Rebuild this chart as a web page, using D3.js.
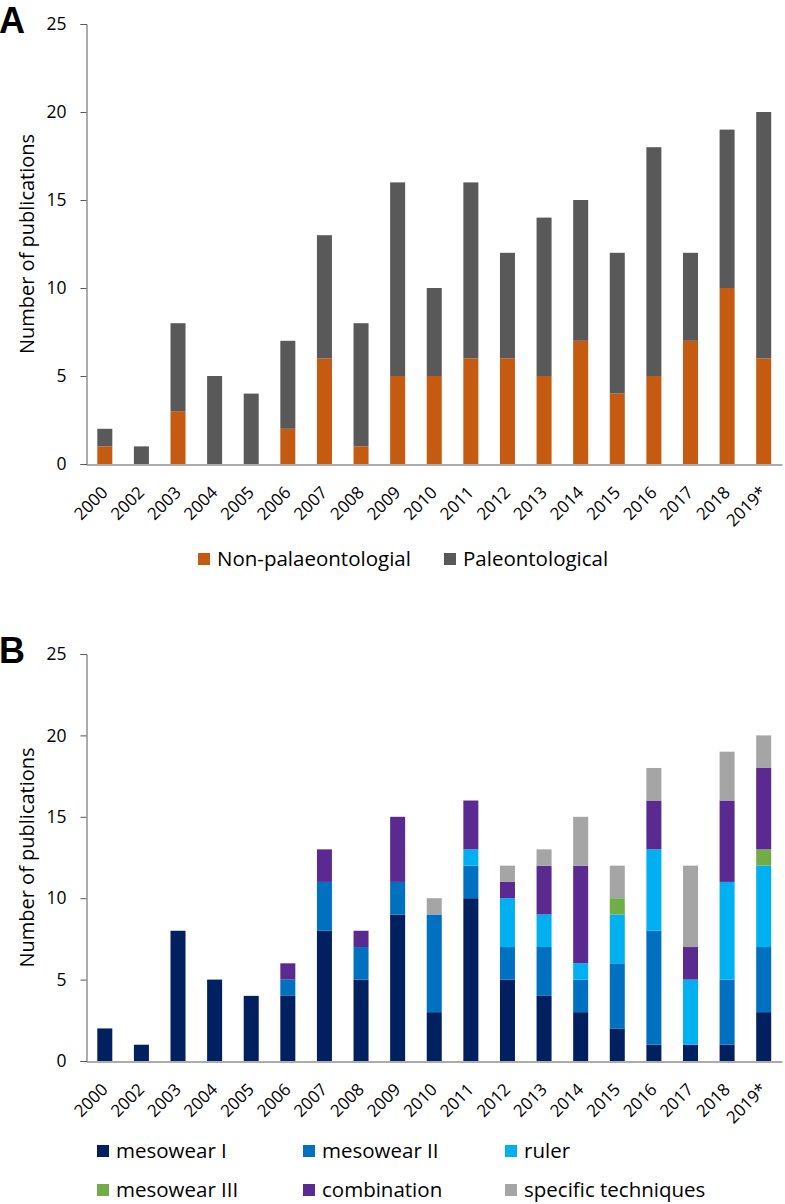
<!DOCTYPE html>
<html>
<head>
<meta charset="utf-8">
<script src="https://cdn.jsdelivr.net/npm/d3@7"></script>
<style>
  body { margin: 0; background: #fff; }
  svg text { font-family: "Open Sans", "Noto Sans", sans-serif; fill: #000; }
</style>
</head>
<body>
<svg id="chart" width="785" height="1204"></svg>
<script>
const years = ["2000", "2002", "2003", "2004", "2005", "2006", "2007", "2008", "2009", "2010",
               "2011", "2012", "2013", "2014", "2015", "2016", "2017", "2018", "2019*"];
const yTicks = [0, 5, 10, 15, 20, 25];

// panel A
const nonPalaeo = [1, 0, 3, 0, 0, 2, 6, 1, 5, 5, 6, 6, 5, 7, 4, 5, 7, 10, 6];
const palaeo    = [1, 1, 5, 5, 4, 5, 7, 7, 11, 5, 10, 6, 9, 8, 8, 13, 5, 9, 14];

// panel B
const mesowearI   = [2, 1, 8, 5, 4, 4, 8, 5, 9, 3, 10, 5, 4, 3, 2, 1, 1, 1, 3];
const mesowearII  = [0, 0, 0, 0, 0, 1, 3, 2, 2, 6, 2, 2, 3, 2, 4, 7, 0, 4, 4];
const ruler       = [0, 0, 0, 0, 0, 0, 0, 0, 0, 0, 1, 3, 2, 1, 3, 5, 4, 6, 5];
const mesowearIII = [0, 0, 0, 0, 0, 0, 0, 0, 0, 0, 0, 0, 0, 0, 1, 0, 0, 0, 1];
const combination = [0, 0, 0, 0, 0, 1, 2, 1, 4, 0, 3, 1, 3, 6, 0, 3, 2, 5, 5];
const specific    = [0, 0, 0, 0, 0, 0, 0, 0, 0, 1, 0, 1, 1, 3, 2, 2, 5, 3, 2];

const svg = d3.select("#chart");

function drawPanel(opts) {
    const rows = years.map((yr, i) => {
        const r = {year: yr};
        opts.series.forEach(s => r[s.key] = s.values[i]);
        return r;
    });
    const stack = d3.stack().keys(opts.series.map(s => s.key))(rows);

    const x = d3.scaleBand()
        .domain(years)
        .range([86.5, 782])
        .paddingInner(0.59)
        .paddingOuter(0.295);

    const y = d3.scaleLinear()
        .domain([0, 25])
        .range([opts.bottom, opts.top]);

    const g = svg.append("g");

    g.selectAll("g.layer")
        .data(stack)
      .enter().append("g")
        .attr("fill", (d, i) => opts.series[i].color)
      .selectAll("rect")
        .data(d => d)
      .enter().append("rect")
        .attr("x", d => x(d.data.year))
        .attr("width", x.bandwidth())
        .attr("y", d => y(d[1]))
        .attr("height", d => y(d[0]) - y(d[1]));

    // Y Axis
    const yAxis = g.append("g")
        .attr("transform", "translate(86.5,0)")
        .call(d3.axisLeft(y).tickValues(yTicks).tickSize(6).tickPadding(14));
    yAxis.selectAll("text").style("font-size", "17.5px");
    yAxis.selectAll("line, path").attr("stroke", "#595959");

    // X Axis
    const xAxis = g.append("g")
        .attr("transform", `translate(0,${opts.bottom + 0.5})`)
        .call(d3.axisBottom(x).tickSize(0).tickSizeOuter(0));
    xAxis.select("path").attr("stroke", "#595959");
    xAxis.selectAll("text")
        .style("font-size", "17px")
        .attr("text-anchor", "end")
        .attr("y", 0)
        .attr("dy", null)
        .attr("transform", "translate(4,29) rotate(-45)");

    g.append("text")
        .attr("transform", `translate(34,${(opts.top + opts.bottom) / 2}) rotate(-90)`)
        .attr("text-anchor", "middle")
        .style("font-size", "20px")
        .text("Number of publications");

    g.append("text")
        .attr("x", -1)
        .attr("y", opts.top + 9)
        .style("font-size", "36px")
        .style("font-weight", "bold")
        .style("font-family", "'Liberation Sans', Arial, sans-serif")
        .text(opts.letter);

    // Legend
    const leg = g.selectAll("g.legend")
        .data(opts.series)
      .enter().append("g")
        .attr("transform", (d, i) => `translate(${opts.legendX[i]},${opts.legendY[i]})`);
    leg.append("rect")
        .attr("x", 0).attr("y", -6)
        .attr("width", 12).attr("height", 12)
        .attr("fill", d => d.color);
    leg.append("text")
        .attr("x", 19)
        .attr("dy", "0.36em")
        .style("font-size", "20.5px")
        .text(d => d.label);
}

drawPanel({
    letter: "A",
    top: 24, bottom: 464,
    series: [
        {key: "non", label: "Non-palaeontologial", values: nonPalaeo, color: "#c55a11"},
        {key: "pal", label: "Paleontological", values: palaeo, color: "#595959"}
    ],
    legendX: [198, 444],
    legendY: [559, 559]
});

drawPanel({
    letter: "B",
    top: 654, bottom: 1061,
    series: [
        {key: "m1", label: "mesowear I", values: mesowearI, color: "#002060"},
        {key: "m2", label: "mesowear II", values: mesowearII, color: "#0070c0"},
        {key: "ru", label: "ruler", values: ruler, color: "#00b0f0"},
        {key: "m3", label: "mesowear III", values: mesowearIII, color: "#70ad47"},
        {key: "co", label: "combination", values: combination, color: "#5b2a91"},
        {key: "sp", label: "specific techniques", values: specific, color: "#a5a5a5"}
    ],
    legendX: [97, 303, 505, 97, 303, 505],
    legendY: [1151, 1151, 1151, 1190, 1190, 1190]
});
</script>
</body>
</html>
